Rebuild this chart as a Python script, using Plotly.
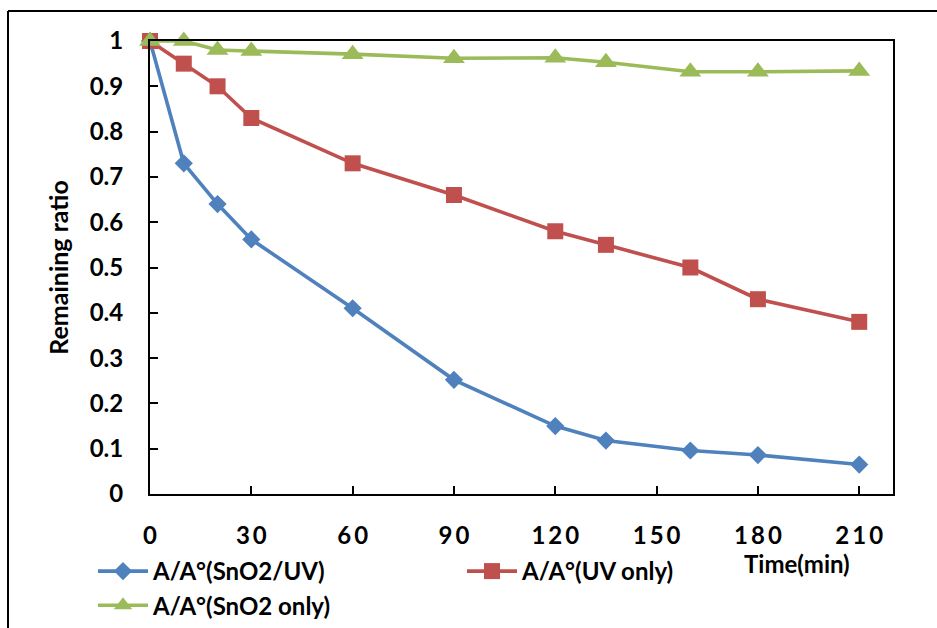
import plotly.graph_objects as go

time_min = [0, 10, 20, 30, 60, 90, 120, 135, 160, 180, 210]
snO2_uv = [1.0, 0.73, 0.64, 0.562, 0.41, 0.252, 0.15, 0.118, 0.096, 0.086, 0.065]
uv_only = [1.0, 0.95, 0.90, 0.83, 0.73, 0.66, 0.58, 0.55, 0.50, 0.43, 0.38]
snO2_only = [1.0, 1.0, 0.98, 0.978, 0.971, 0.962, 0.963, 0.953, 0.932, 0.932, 0.934]

x_ticks = [0, 30, 60, 90, 120, 150, 180, 210]
y_ticks = [0, 0.1, 0.2, 0.3, 0.4, 0.5, 0.6, 0.7, 0.8, 0.9, 1]
y_tick_text = ["0", "0.1", "0.2", "0.3", "0.4", "0.5", "0.6", "0.7", "0.8", "0.9", "1"]

names = ["A/A°(SnO2/UV)", "A/A°(UV only)", "A/A°(SnO2 only)"]
colors = ["#4F81BD", "#C0504D", "#9BBB59"]
symbols = ["diamond", "square", "triangle-up"]
sizes = [14, 16, 19]

FONT = "Lato, 'Open Sans', sans-serif"
FS = 24

fig = go.Figure()
for ys, nm, c, s, sz in zip([snO2_uv, uv_only, snO2_only], names, colors, symbols, sizes):
    fig.add_trace(go.Scatter(
        x=time_min, y=ys, name=nm, mode="lines+markers",
        line=dict(color=c, width=3.6),
        marker=dict(symbol=s, size=sz, color=c, line=dict(width=0)),
        cliponaxis=False,
    ))

# x tick labels drawn with a thin space between digits, as in the reference
x_tick_text = ["\u2009".join(str(v)) for v in x_ticks]

fig.update_layout(
    width=937, height=628,
    margin=dict(l=150, r=44, t=41, b=134, autoexpand=False),
    paper_bgcolor="white", plot_bgcolor="white",
    font=dict(family=FONT, size=FS, color="black"),
    showlegend=True,
    legend=dict(
        orientation="h",
        xref="container", x=93 / 937, xanchor="left",
        yref="container", y=1 - 549 / 628, yanchor="top",
        entrywidth=304, entrywidthmode="pixels",
        font=dict(family=FONT, size=FS, color="black", weight="bold"),
        itemwidth=50, tracegroupgap=0,
    ),
    xaxis=dict(
        range=[0, 220], tickvals=x_ticks, ticktext=x_tick_text,
        ticks="inside", ticklen=8, tickwidth=2, tickcolor="black",
        showline=True, linecolor="black", linewidth=2, mirror=True,
        showgrid=False, zeroline=False, automargin=False,
        tickfont=dict(family=FONT, size=FS, color="black", weight="bold"),
        ticklabelstandoff=19,
    ),
    yaxis=dict(
        range=[0, 1], tickvals=y_ticks, ticktext=y_tick_text,
        ticks="inside", ticklen=8, tickwidth=2, tickcolor="black",
        showline=True, linecolor="black", linewidth=2, mirror=True,
        showgrid=False, zeroline=False, automargin=False,
        tickfont=dict(family=FONT, size=FS, color="black", weight="bold"),
        ticklabelstandoff=20,
        title=dict(text="Remaining ratio", standoff=14,
                   font=dict(family=FONT, size=25, color="black", weight="bold")),
    ),
    annotations=[dict(
        text="Time(min)", xref="paper", yref="paper",
        x=(797 - 150) / 743, y=(494 - 563) / 453, xanchor="center", yanchor="middle",
        showarrow=False, font=dict(family=FONT, size=FS, color="black", weight="bold"),
    )],
    shapes=[
        dict(type="line", xref="paper", yref="paper",
             x0=(8 - 150) / 743, x1=(940 - 150) / 743,
             y0=(494 - 11) / 453, y1=(494 - 11) / 453,
             line=dict(color="black", width=2)),
        dict(type="line", xref="paper", yref="paper",
             x0=(8 - 150) / 743, x1=(8 - 150) / 743,
             y0=(494 - 11) / 453, y1=(494 - 640) / 453,
             line=dict(color="black", width=2)),
    ],
)

fig.write_html("out.html")
